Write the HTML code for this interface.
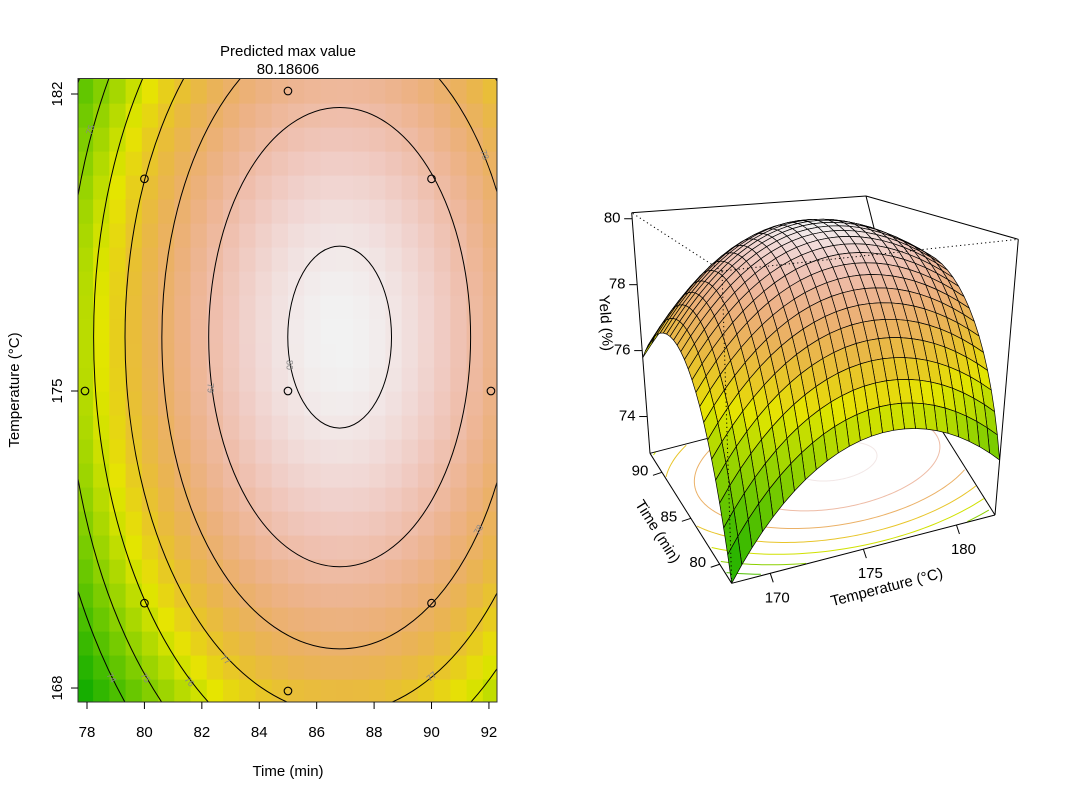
<!DOCTYPE html>
<html><head><meta charset="utf-8"><style>
html,body{margin:0;padding:0;background:#fff;overflow:hidden;width:1074px;height:800px;}
svg{display:block;}
svg text{font-family:"Liberation Sans",Arial,sans-serif;}
</style></head><body>
<svg id="chart" width="1074" height="800" viewBox="0 0 1074 800" xmlns="http://www.w3.org/2000/svg">
<defs><clipPath id="clipL"><rect x="78" y="78.5" width="419" height="623.5"/></clipPath></defs>
<g id="left"></g>
<g id="right"></g>
</svg>
<script>
// ---- data ----
const predictedMax = [80.18606];
const optimumTime = [86.8];
const optimumTemp = [176.27];
const curvatureTime = [0.057];
const curvatureTemp = [0.0405];
const timeRange = [77.93, 92.07];
const tempRange = [167.93, 182.07];
const gridSize = [26];
const colorLow = [72.4];
const contourLevels = [74, 75, 76, 77, 78, 79, 80];
const timeTicks = [78, 80, 82, 84, 86, 88, 90, 92];
const tempTicks = [168, 175, 182];
const designTime = [80, 80, 90, 90, 85, 77.93, 92.07, 85, 85];
const designTemp = [170, 180, 170, 180, 175, 175, 175, 167.93, 182.07];
const surfTimeTicks = [80, 85, 90];
const surfTempTicks = [170, 175, 180];
const surfYieldTicks = [74, 76, 78, 80];

const NS = "http://www.w3.org/2000/svg";
function mk(tag, attrs, parent){const e=document.createElementNS(NS,tag);for(const k in attrs)e.setAttribute(k,attrs[k]);if(parent)parent.appendChild(e);return e;}
function model(t,T){return predictedMax[0]-curvatureTime[0]*(t-optimumTime[0])**2-curvatureTemp[0]*(T-optimumTemp[0])**2;}
function hsv(h,s,v){const i=Math.floor(h*6)%6,f=h*6-Math.floor(h*6),p=v*(1-s),q=v*(1-f*s),t=v*(1-(1-f)*s);
 let r,g,b;[r,g,b]=[[v,t,p],[q,v,p],[p,v,t],[p,q,v],[t,p,v],[v,p,q]][i];
 return `rgb(${Math.round(r*255)},${Math.round(g*255)},${Math.round(b*255)})`;}
function terrain(f){f=Math.max(0,Math.min(1,f));
 if(f<0.5){const g=f/0.5;return hsv((120-60*g)/360,1,0.65+0.25*g);}
 const g=(f-0.5)/0.5;return hsv((60-60*g)/360,1-g,0.9+0.05*g);}
const N=gridSize[0];
const gt=[],gT=[];for(let i=0;i<N;i++){gt.push(timeRange[0]+i*(timeRange[1]-timeRange[0])/(N-1));gT.push(tempRange[0]+i*(tempRange[1]-tempRange[0])/(N-1));}
const Z=gt.map(t=>gT.map(T=>model(t,T)));
let zmin=Infinity,zmax=-Infinity;Z.forEach(r=>r.forEach(v=>{zmin=Math.min(zmin,v);zmax=Math.max(zmax,v);}));
const col=z=>terrain((z-colorLow[0])/(zmax-colorLow[0]));

// ---- left panel ----
const L=document.getElementById('left');
const X=t=>87+(t-78)*28.71, Y=T=>94+(182-T)*42.43;
const cells=mk('g',{'clip-path':'url(#clipL)'},L);


const st=(timeRange[1]-timeRange[0])/(N-1), sT=(tempRange[1]-tempRange[0])/(N-1);
for(let i=0;i<N;i++)for(let j=0;j<N;j++){
 const x0=X(gt[i]-st/2),x1=X(gt[i]+st/2),y0=Y(gT[j]+sT/2),y1=Y(gT[j]-sT/2);
 const r=mk('rect',{x:x0,y:y0,width:x1-x0+0.6,height:y1-y0+0.6,fill:col(Z[i][j])},cells);
 
 
}
const cont=mk('g',{'clip-path':'url(#clipL)',fill:'none',stroke:'#000','stroke-width':1},L);


contourLevels.forEach(lv=>{const d=predictedMax[0]-lv;
 const rt=Math.sqrt(d/curvatureTime[0]),rT=Math.sqrt(d/curvatureTemp[0]);
 const e=mk('ellipse',{cx:X(optimumTime[0]),cy:Y(optimumTemp[0]),rx:rt*28.71,ry:rT*42.43},cont);
 
 
});
const lab=[["75",91,130,-70],["78",484,155,70],["80",289,365,90],["79",210,388,90],["74",111,678,60],["75",145,678,55],["76",189,682,50],["77",225,660,45],["77",432,677,-40],["78",479,530,-60]];
lab.forEach(a=>{const t=mk('text',{x:a[1],y:a[2],'font-size':9,fill:'#888','text-anchor':'middle','dominant-baseline':'middle',transform:`rotate(${a[3]} ${a[1]} ${a[2]})`},L);t.textContent=a[0];
 
 });
designTime.forEach((t,k)=>{const c=mk('circle',{cx:X(t),cy:Y(designTemp[k]),r:3.8,fill:'none',stroke:'#000','stroke-width':1.1},L);
 
 });
const fr=mk('rect',{x:78,y:78.5,width:419,height:623.5,fill:'none',stroke:'#333','stroke-width':1},L);


timeTicks.forEach(t=>{mk('line',{x1:X(t),x2:X(t),y1:702,y2:709,stroke:'#000'},L);
 const tx=mk('text',{x:X(t),y:737,'font-size':15,'text-anchor':'middle'},L);tx.textContent=t;
 
 });
tempTicks.forEach(T=>{mk('line',{x1:71,x2:78,y1:Y(T),y2:Y(T),stroke:'#000'},L);
 const tx=mk('text',{x:62,y:Y(T),'font-size':15,'text-anchor':'middle',transform:`rotate(-90 62 ${Y(T)})`},L);tx.textContent=T;
 
 });
let tx=mk('text',{x:288,y:776,'font-size':15,'text-anchor':'middle'},L);tx.textContent='Time (min)';


tx=mk('text',{x:19,y:390,'font-size':15,'text-anchor':'middle',transform:'rotate(-90 19 390)'},L);tx.textContent='Temperature (°C)';


tx=mk('text',{x:288,y:56,'font-size':15,'text-anchor':'middle'},L);tx.textContent='Predicted max value';


tx=mk('text',{x:288,y:74,'font-size':15,'text-anchor':'middle'},L);tx.textContent=predictedMax[0].toFixed(5);



// ---- right panel (3D) ----
const R=document.getElementById('right');
const C={F0:[731.7,583.3],L0:[650,453.3],R0:[995,515],B0:[913.3,385],F1:[722,271],L1:[631.7,212.7],R1:[1018.3,239.3],B1:[866,196]};
function bil(a,b,c,d,u,v){return [(1-u)*(1-v)*a[0]+u*(1-v)*b[0]+(1-u)*v*c[0]+u*v*d[0],(1-u)*(1-v)*a[1]+u*(1-v)*b[1]+(1-u)*v*c[1]+u*v*d[1]];}
function P(u,v,w){const p0=bil(C.F0,C.L0,C.R0,C.B0,u,v),p1=bil(C.F1,C.L1,C.R1,C.B1,u,v);return [p0[0]+(p1[0]-p0[0])*w,p0[1]+(p1[1]-p0[1])*w];}
const U=t=>(t-timeRange[0])/(timeRange[1]-timeRange[0]), V=T=>(T-tempRange[0])/(tempRange[1]-tempRange[0]), W=z=>(z-zmin)/(zmax-zmin);
const line=(a,b,extra,name)=>{const l=mk('line',Object.assign({x1:a[0],y1:a[1],x2:b[0],y2:b[1],stroke:'#000','stroke-width':1},extra||{}),R);
 
 return l;};
contourLevels.forEach(lv=>{const d=predictedMax[0]-lv;const rt=Math.sqrt(d/curvatureTime[0]),rT=Math.sqrt(d/curvatureTemp[0]);
 let segs=[],cur=[];
 for(let k=0;k<=240;k++){const a=k/240*2*Math.PI;const u=U(optimumTime[0]+rt*Math.cos(a)),v=V(optimumTemp[0]+rT*Math.sin(a));
  if(u>=0&&u<=1&&v>=0&&v<=1){cur.push(P(u,v,0));}else{if(cur.length>1)segs.push(cur);cur=[];}}
 if(cur.length>1)segs.push(cur);
 segs.forEach(s=>{const pl=mk('polyline',{points:s.map(p=>p.join(',')).join(' '),fill:'none',stroke:col(lv),'stroke-width':1},R);
  
  });
});
[['L0','B0'],['B0','R0'],['B0','B1'],['L1','B1'],['B1','R1']].forEach(e=>line(C[e[0]],C[e[1]],{},'box-edge'));
const facets=[];for(let i=0;i<N-1;i++)for(let j=0;j<N-1;j++)facets.push([i,j]);
facets.sort((a,b)=>(b[0]+b[1])-(a[0]+a[1]));
const sg=mk('g',{stroke:'#000','stroke-width':0.7,'stroke-linejoin':'round'},R);


facets.forEach(([i,j])=>{const pts=[[i,j],[i+1,j],[i+1,j+1],[i,j+1]].map(([a,b])=>P(U(gt[a]),V(gT[b]),W(Z[a][b])));
 const zm=(Z[i][j]+Z[i+1][j]+Z[i+1][j+1]+Z[i][j+1])/4;
 const pg=mk('polygon',{points:pts.map(p=>p.join(',')).join(' '),fill:col(zm)},sg);
 
 });
[['F0','F1'],['F1','L1'],['F1','R1']].forEach(e=>line(C[e[0]],C[e[1]],{'stroke-dasharray':'1.2,3'},'hidden-box-edge'));
[['F0','L0'],['F0','R0'],['L0','L1'],['R0','R1']].forEach(e=>line(C[e[0]],C[e[1]],{},'box-edge'));
surfTimeTicks.forEach(t=>{const p=P(U(t),0,0);line(p,[p[0]-9,p[1]+3],{},'time-tick');
 const s=mk('text',{x:p[0]-22,y:p[1]-1,'font-size':15,'text-anchor':'middle','dominant-baseline':'middle'},R);s.textContent=t;
 
 });
surfTempTicks.forEach(T=>{const p=P(0,V(T),0);line(p,[p[0]+3,p[1]+9],{},'temp-tick');
 const s=mk('text',{x:p[0]+7,y:p[1]+25,'font-size':15,'text-anchor':'middle','dominant-baseline':'middle'},R);s.textContent=T;
 
 });
surfYieldTicks.forEach(z=>{const p=P(1,0,W(z));line(p,[p[0]-8,p[1]],{},'yield-tick');
 const s=mk('text',{x:p[0]-20,y:p[1],'font-size':15,'text-anchor':'middle','dominant-baseline':'middle'},R);s.textContent=z;
 
 });
tx=mk('text',{x:657,y:532,'font-size':15,'text-anchor':'middle','dominant-baseline':'middle',transform:'rotate(57.9 657 532)'},R);tx.textContent='Time (min)';


tx=mk('text',{x:887,y:588,'font-size':15,'text-anchor':'middle','dominant-baseline':'middle',transform:'rotate(-14.5 887 588)'},R);tx.textContent='Temperature (°C)';


tx=mk('text',{x:605,y:323,'font-size':15,'text-anchor':'middle','dominant-baseline':'middle',transform:'rotate(86 605 323)'},R);tx.textContent='Yeld (%)';


</script>
</body></html>
